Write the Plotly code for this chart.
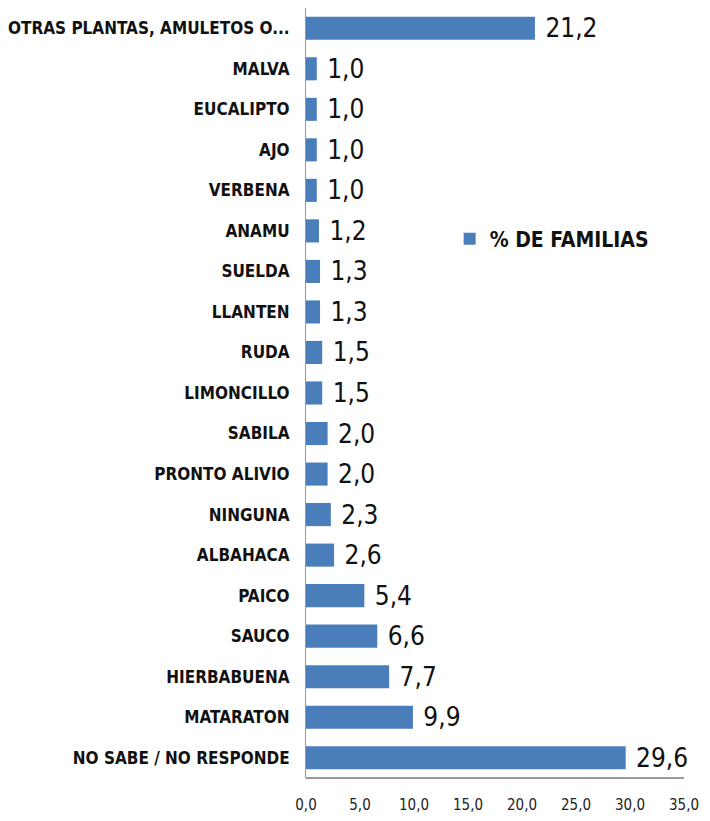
import plotly.graph_objects as go

categories = ["OTRAS PLANTAS, AMULETOS O...", "MALVA", "EUCALIPTO", "AJO", "VERBENA", "ANAMU",
              "SUELDA", "LLANTEN", "RUDA", "LIMONCILLO", "SABILA", "PRONTO ALIVIO", "NINGUNA",
              "ALBAHACA", "PAICO", "SAUCO", "HIERBABUENA", "MATARATON", "NO SABE / NO RESPONDE"]
values = [21.2, 1.0, 1.0, 1.0, 1.0, 1.2, 1.3, 1.3, 1.5, 1.5, 2.0, 2.0, 2.3, 2.6, 5.4, 6.6, 7.7, 9.9, 29.6]
series_name = "% DE FAMILIAS"
x_ticks = [0, 5, 10, 15, 20, 25, 30, 35]

font_family = "DejaVu Sans Condensed, Liberation Sans Narrow, sans-serif"

fig = go.Figure()
fig.add_trace(go.Bar(
    y=categories, x=values, orientation="h", name=series_name,
    marker=dict(color="#4A7EBB", line=dict(width=0)),
    width=0.57,
    text=[" " + f"{v:.1f}".replace(".", ",") for v in values],
    textposition="outside", cliponaxis=False, constraintext="none",
    textfont=dict(size=26, color="#111111", family=font_family),
))

fig.update_layout(
    width=702, height=805,
    margin=dict(l=298, r=26, t=0, b=35, autoexpand=False),
    paper_bgcolor="white", plot_bgcolor="white",
    separators=",.",
    showlegend=True,
    legend=dict(x=0.38, y=0.70, xanchor="left", yanchor="middle",
                font=dict(size=21, color="#111111", family=font_family, weight="bold"),
                bgcolor="rgba(0,0,0,0)"),
    font=dict(family=font_family, color="#111111"),
)
fig.update_xaxes(range=[0, 35], tickvals=x_ticks, tickformat=".1f", showgrid=False,
                 zeroline=False, showline=False, ticks="", automargin=False,
                 ticklabeloverflow="allow",
                 tickfont=dict(size=15, color="#222222", family=font_family), ticklabelstandoff=16)
fig.update_yaxes(autorange="reversed", showgrid=False, showline=True, linecolor="#999999",
                 linewidth=1, ticks="", ticklabelstandoff=12, automargin=False,
                 tickfont=dict(size=17, color="#111111", family=font_family, weight="bold"))
# bottom axis line
fig.add_shape(type="line", xref="x", yref="paper", x0=0, x1=35, y0=0, y1=0,
              line=dict(color="#999999", width=2))

fig.write_html("out.html")
